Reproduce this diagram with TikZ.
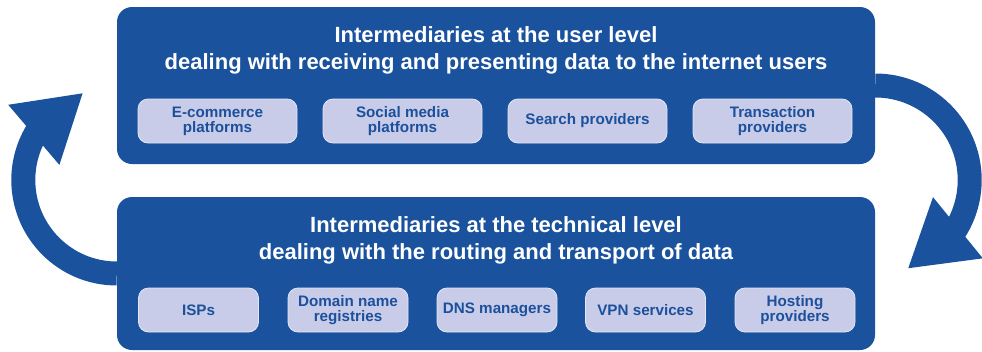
\documentclass[tikz,border=0pt]{standalone}
\usepackage{fontspec}
\setmainfont{Liberation Sans}
\usepackage{tikz}
\usetikzlibrary{arrows.meta,bending}
\definecolor{tierblue}{RGB}{26,82,158}
\definecolor{itemfill}{RGB}{200,204,232}
\definecolor{itemtext}{RGB}{28,80,156}
\tikzset{
  tier/.style = {fill=tierblue, rounded corners=15pt, minimum width=758pt, inner sep=0pt},
  tiertitle/.style = {text=white, align=center, font=\bfseries\fontsize{22}{27}\selectfont},
  item/.style = {fill=itemfill, draw=itemfill!50!white, line width=0.8pt, rounded corners=10pt, text=itemtext, align=center, inner sep=0pt, minimum height=44pt, font=\bfseries\fontsize{15.2}{15}\selectfont},
  useritem/.style = {item, minimum width=159pt},
  techitem/.style = {item, minimum width=120pt},
  loopband/.style = {tierblue, line width=24pt, -{Triangle[width=74pt,length=65pt]}}
}

\begin{document}
\begin{tikzpicture}[x=1pt,y=1pt]
\useasboundingbox (0,0) rectangle (982,-351);
\node[tier, minimum height=157pt] (usr) at (496,-85.5) {};
\node[tier, minimum height=153pt] (tech) at (496,-273.5) {};

\draw[loopband] (usr.east) arc[start angle=90, end angle=-70, radius=94.5];
\draw[loopband] (tech.west) arc[start angle=270, end angle=111, radius=93.5];

\node[tiertitle] (usrtitle) at (496,-50.5) {Intermediaries at the user level\\dealing with receiving and presenting data to the internet users};
\node[tiertitle] (techtitle) at (496,-240.5) {Intermediaries at the technical level\\dealing with the routing and transport of data};

\node[useritem] (ecom) at (217.5,-121) {E-commerce\\platforms};
\node[useritem] (social) at (402.5,-121) {Social media\\platforms};
\node[useritem] (search) at (587.5,-121) {Search providers};
\node[useritem] (trans) at (772.5,-121) {Transaction\\providers};

\node[techitem] (isp) at (198.5,-310) {ISPs};
\node[techitem] (domain) at (348,-310) {Domain name\\registries};
\node[techitem] (dns) at (497,-310) {DNS managers};
\node[techitem] (vpn) at (645.5,-310) {VPN services};
\node[techitem] (hosting) at (795,-310) {Hosting\\providers};
\end{tikzpicture}
\end{document}
